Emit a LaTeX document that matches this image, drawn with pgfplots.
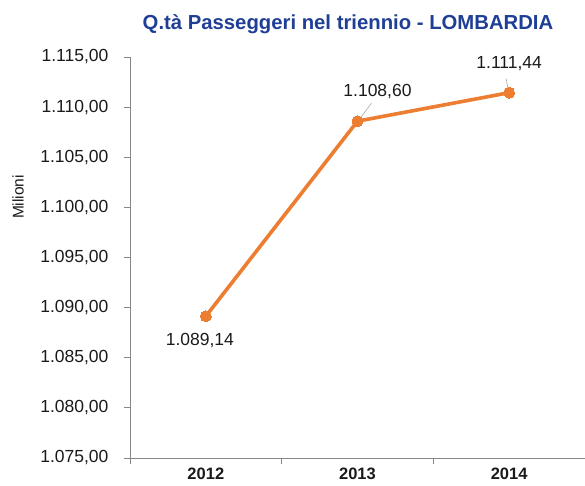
\documentclass[border=0pt]{standalone}
\usepackage{pgfplots}
\pgfplotsset{compat=1.18}
\usepackage{fontspec}
\setmainfont{Liberation Sans}
\usetikzlibrary{calc}
\definecolor{tblue}{HTML}{1F3E96}
\definecolor{lorange}{HTML}{ED7D31}
\definecolor{axgray}{HTML}{868686}
\definecolor{txt}{HTML}{1A1A1A}
\definecolor{leader}{HTML}{A6A6A6}
\begin{document}
\begin{tikzpicture}
\begin{axis}[name=ax, scale only axis, width=455pt, height=401pt,
  xmin=-0.5, xmax=2.5, ymin=1075, ymax=1115,
  axis lines*=left, clip=false,
  axis line style={axgray, line width=0.9pt},
  xtick={0,1,2}, xticklabels={2012,2013,2014},
  major x tick style={draw=none},
  minor xtick={-0.5,0.5,1.5,2.5},
  ytick={1075,1080,...,1115},
  tick align=outside, tick style={axgray, line width=0.8pt},
  major tick length=6pt, minor tick length=6pt,
  yticklabel style={font=\fontsize{17.5}{20}\selectfont, text=txt, xshift=-12pt},
  xticklabel style={font=\fontsize{16.5}{19}\selectfont\bfseries, text=txt},
  /pgf/number format/fixed, /pgf/number format/fixed zerofill,
  /pgf/number format/precision=2, /pgf/number format/use comma,
  /pgf/number format/1000 sep={.}, /pgf/number format/assume math mode=true,
]
\draw[leader, line width=0.6pt] ($(axis cs:1,1108.60)+(2pt,2pt)$) -- ++(12pt,16pt);
\draw[leader, line width=0.6pt] ($(axis cs:2,1111.44)+(-1pt,3pt)$) -- ++(-2pt,11pt);
\addplot[lorange, line width=3.6pt, mark=*, mark size=5.5pt,
  mark options={fill=lorange, draw=lorange, line width=0pt}]
  coordinates {(0,1089.14) (1,1108.60) (2,1111.44)};
\node[font=\fontsize{17.5}{20}\selectfont, text=txt] at ($(axis cs:0,1089.14)+(-6pt,-24pt)$) {1.089,14};
\node[font=\fontsize{17.5}{20}\selectfont, text=txt] at ($(axis cs:1,1108.60)+(20pt,30pt)$) {1.108,60};
\node[font=\fontsize{17.5}{20}\selectfont, text=txt] at ($(axis cs:2,1111.44)+(0pt,29pt)$) {1.111,44};
\end{axis}
\node[rotate=90, font=\fontsize{15.5}{18}\selectfont, text=txt] at ($(ax.south west)+(-112pt,261pt)$) {Milioni};
\node[font=\fontsize{20.3}{23}\selectfont\bfseries, text=tblue, anchor=base] at ($(ax.north west)+(218pt,27pt)$) {Q.tà Passeggeri nel triennio - LOMBARDIA};
\pgfresetboundingbox
\path[use as bounding box] ($(ax.south west)+(-130pt,-28pt)$) rectangle ($(ax.north east)+(0pt,57pt)$);
\end{tikzpicture}
\end{document}
